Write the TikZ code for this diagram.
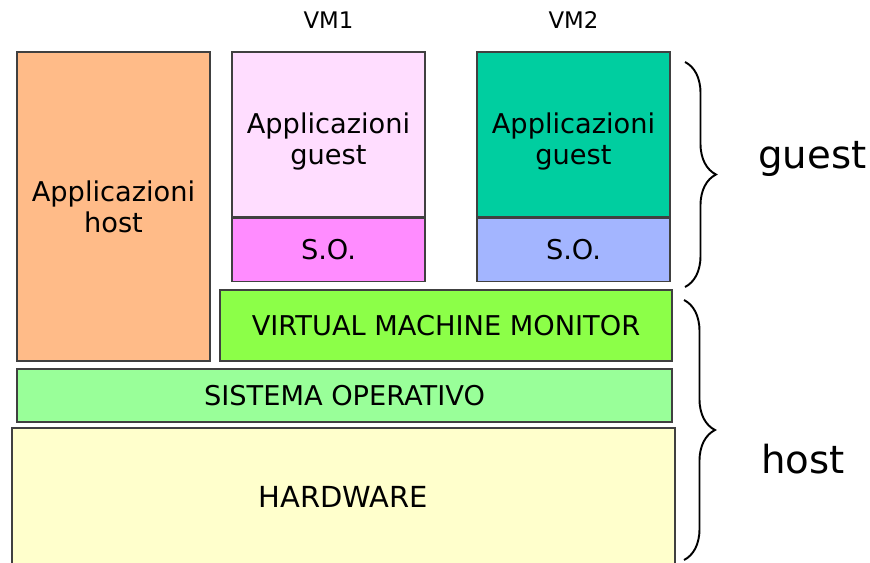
\documentclass[tikz,border=0pt]{standalone}
\usepackage{fontspec}
\setmainfont{DejaVu Sans}
\usetikzlibrary{positioning, decorations.pathreplacing, calc}
\definecolor{hostorange}{RGB}{255, 187, 136}
\definecolor{guestpink}{RGB}{255, 221, 255}
\definecolor{sopink}{RGB}{255, 140, 255}
\definecolor{guestteal}{RGB}{0, 206, 160}
\definecolor{soblue}{RGB}{163, 181, 255}
\definecolor{vmmgreen}{RGB}{140, 255, 72}
\definecolor{osgreen}{RGB}{153, 255, 153}
\definecolor{hwyellow}{RGB}{255, 255, 204}

\begin{document}
\begin{tikzpicture}[
    x=0.02cm, y=-0.02cm,
    layer/.style={draw=black!75, line width=0.7pt, align=center, inner sep=0pt, font=\fontsize{15.5}{17.6}\selectfont},
    vmlabel/.style={font=\fontsize{13}{15}\selectfont},
    side/.style={font=\fontsize{22}{26}\selectfont},
    curly/.style={decorate, decoration={brace, amplitude=0.62cm}, line width=1.1pt}
]

\useasboundingbox (0,0) rectangle (870,562);

% Host applications
\node[layer, fill=hostorange, minimum width=3.86cm, minimum height=6.18cm] (apphost) at (113.5,206.5) {Applicazioni\\host};

% Virtual machines
\node[layer, fill=guestpink, minimum width=3.86cm, minimum height=3.3cm] (vm1app) at (328.5,134.5) {\rule{0pt}{20pt}Applicazioni\\guest};
\node[layer, fill=sopink, minimum width=3.86cm, minimum height=1.26cm, below=0pt of vm1app] (vm1so) {S.O.};
\node[layer, fill=guestteal, minimum width=3.86cm, minimum height=3.3cm] (vm2app) at (573.5,134.5) {\rule{0pt}{20pt}Applicazioni\\guest};
\node[layer, fill=soblue, minimum width=3.86cm, minimum height=1.26cm, below=0pt of vm2app] (vm2so) {S.O.};

\node[vmlabel] (vm1) at (328.5,20) {VM1};
\node[vmlabel] (vm2) at (573.5,20) {VM2};

% Lower layers
\node[layer, fill=vmmgreen, minimum width=9.04cm, minimum height=1.42cm] (vmm) at (446,325.5) {VIRTUAL MACHINE MONITOR};
\node[layer, fill=osgreen, minimum width=13.1cm, minimum height=1.06cm] (os) at (344.5,395.5) {SISTEMA OPERATIVO};
\node[layer, fill=hwyellow, minimum width=13.26cm, minimum height=2.76cm, font=\fontsize{16.5}{18}\selectfont] (hw) at (343.5,497) {HARDWARE};

% Braces
\coordinate (gtop) at (685,62);
\coordinate (gbot) at (685,287);
\coordinate (htop) at (684,300);
\coordinate (hbot) at (684,560);
\draw[curly] (gtop) -- (gbot);
\draw[curly] (htop) -- (hbot);

\node[side, anchor=base west] (guest) at (752,168) {guest};
\node[side, anchor=base west] (host) at (755,473) {host};

\end{tikzpicture}
\end{document}
